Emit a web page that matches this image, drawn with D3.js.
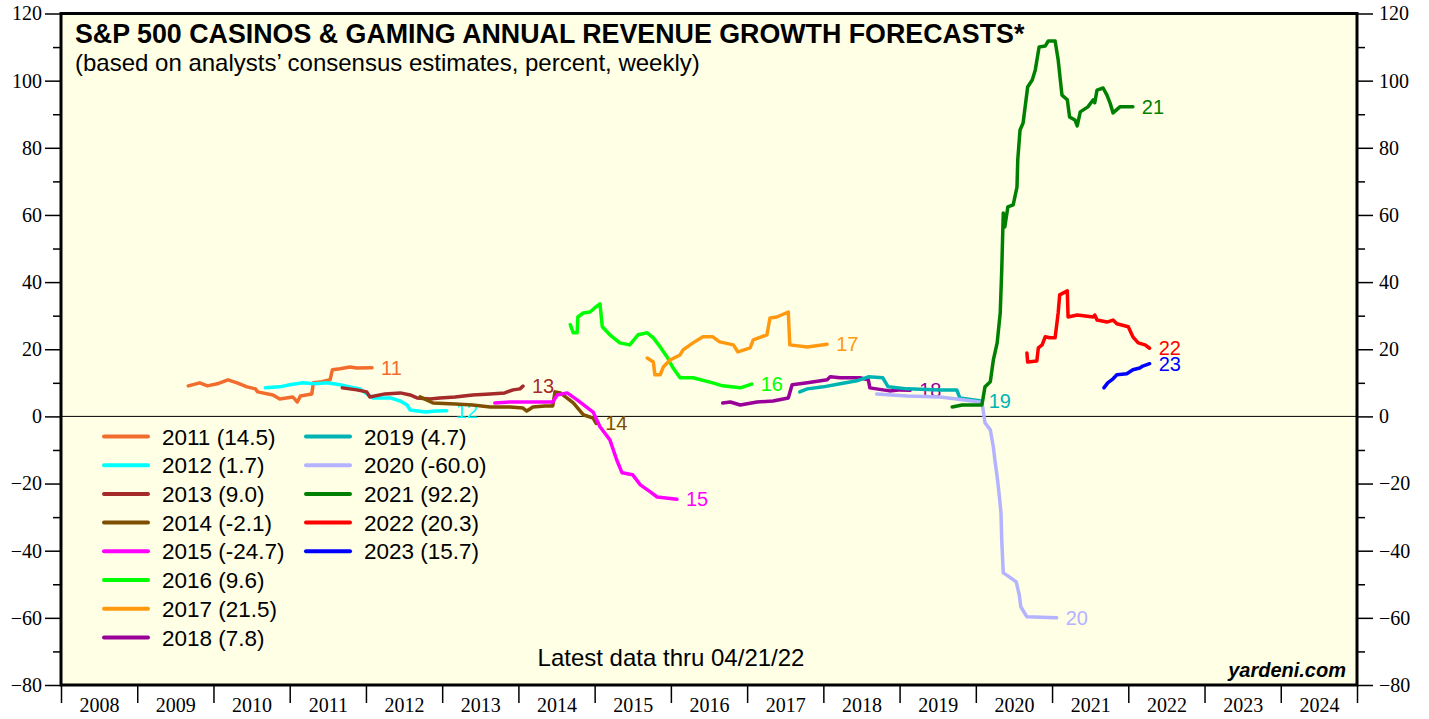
<!DOCTYPE html>
<html>
<head>
<meta charset="utf-8">
<script src="https://cdn.jsdelivr.net/npm/d3@7"></script>
<style>
body { margin: 0; background: #fff; }
svg text { font-family: "Liberation Sans", Arial, sans-serif; }
.axis text { font-family: "Liberation Serif", "Times New Roman", serif; font-size: 20px; fill: #000; }
.axis .domain { display: none; }
.axis line { stroke: #000; stroke-width: 1.5; }
</style>
</head>
<body>
<svg id="chart"></svg>
<script>
// forecast years (legend order) and the latest value shown in the legend
const years = [2011, 2012, 2013, 2014, 2015, 2016, 2017, 2018, 2019, 2020, 2021, 2022, 2023];
const finals = [14.5, 1.7, 9.0, -2.1, -24.7, 9.6, 21.5, 7.8, 4.7, -60.0, 92.2, 20.3, 15.7];

// weekly consensus growth forecasts, [decimal year, percent]
const f2011 = [[2009.67,9.1],[2009.82,10.0],[2009.92,9.1],[2010.05,9.7],[2010.19,10.9],[2010.31,10.0],[2010.44,8.8],[2010.55,8.2],[2010.58,7.3],[2010.78,6.4],[2010.87,5.2],[2011.04,5.8],[2011.10,4.3],[2011.14,6.1],[2011.29,6.7],[2011.31,10.0],[2011.42,10.3],[2011.53,10.9],[2011.56,13.9],[2011.66,14.2],[2011.79,14.7],[2011.88,14.4],[2012.08,14.5]];
const f2012 = [[2010.68,8.5],[2010.87,8.8],[2011.00,9.4],[2011.17,10.0],[2011.33,9.7],[2011.49,10.0],[2011.66,9.4],[2011.79,8.8],[2011.92,8.2],[2012.01,6.7],[2012.09,5.5],[2012.32,5.5],[2012.45,4.6],[2012.54,3.4],[2012.58,1.9],[2012.78,1.3],[2012.91,1.6],[2013.06,1.7]];
const f2013 = [[2011.69,8.5],[2011.88,7.9],[2012.01,7.3],[2012.05,5.8],[2012.25,6.7],[2012.45,7.0],[2012.58,6.4],[2012.67,5.5],[2012.84,5.2],[2012.97,5.5],[2013.17,5.8],[2013.40,6.4],[2013.63,6.7],[2013.82,7.0],[2013.93,7.9],[2014.02,8.2],[2014.06,9.0]];
const f2014 = [[2012.71,5.8],[2012.88,4.0],[2013.17,3.7],[2013.40,3.4],[2013.63,2.8],[2013.89,2.8],[2014.06,2.5],[2014.11,1.6],[2014.19,2.8],[2014.35,3.1],[2014.45,3.1],[2014.48,7.3],[2014.55,7.0],[2014.72,4.0],[2014.85,0.5],[2014.98,-0.5],[2015.02,-2.1]];
const f2015 = [[2013.69,4.0],[2013.89,4.3],[2014.15,4.3],[2014.45,4.3],[2014.51,6.4],[2014.64,7.0],[2014.77,4.9],[2014.98,1.3],[2015.07,-3.1],[2015.20,-7.0],[2015.29,-13.0],[2015.36,-16.8],[2015.50,-17.4],[2015.60,-20.4],[2015.73,-22.5],[2015.82,-24.0],[2016.08,-24.7]];
const f2016 = [[2014.68,27.3],[2014.72,24.9],[2014.77,24.9],[2014.78,29.6],[2014.85,30.8],[2014.94,31.1],[2015.00,32.3],[2015.07,33.5],[2015.10,26.7],[2015.20,24.3],[2015.33,21.9],[2015.46,21.3],[2015.57,24.3],[2015.69,24.9],[2015.77,23.4],[2015.86,20.7],[2015.95,17.7],[2016.03,14.4],[2016.12,11.5],[2016.29,11.5],[2016.55,10.0],[2016.68,9.1],[2016.91,8.5],[2017.06,9.6]];
const f2017 = [[2015.69,17.4],[2015.77,16.2],[2015.79,12.4],[2015.86,12.4],[2015.90,14.7],[2015.99,16.8],[2016.12,18.3],[2016.16,19.8],[2016.29,21.9],[2016.42,23.7],[2016.55,23.7],[2016.64,22.2],[2016.82,21.3],[2016.88,19.2],[2017.04,20.4],[2017.08,22.8],[2017.26,24.3],[2017.30,29.3],[2017.39,29.6],[2017.54,31.1],[2017.56,21.3],[2017.79,20.7],[2018.05,21.5]];
const f2018 = [[2016.68,4.0],[2016.78,4.3],[2016.91,3.4],[2017.13,4.3],[2017.34,4.6],[2017.54,5.5],[2017.59,9.4],[2017.79,10.0],[2018.05,10.9],[2018.09,11.8],[2018.22,11.5],[2018.48,11.5],[2018.59,10.9],[2018.61,8.5],[2018.87,7.6],[2019.01,7.9],[2019.14,7.8]];
const f2019 = [[2017.69,7.3],[2017.79,8.2],[2018.00,8.8],[2018.22,9.7],[2018.44,10.6],[2018.59,11.8],[2018.78,11.5],[2018.85,8.8],[2019.10,8.2],[2019.53,7.9],[2019.75,7.9],[2019.79,5.5],[2020.05,4.7]];
const f2020 = [[2018.70,6.7],[2019.10,6.1],[2019.53,5.8],[2019.75,5.2],[2020.05,4.3],[2020.09,2.8],[2020.12,-1.9],[2020.19,-4.0],[2020.23,-9.1],[2020.25,-13.0],[2020.28,-18.0],[2020.30,-21.9],[2020.33,-28.7],[2020.34,-36.8],[2020.36,-46.6],[2020.42,-47.5],[2020.53,-49.3],[2020.57,-53.2],[2020.59,-56.7],[2020.67,-59.7],[2021.06,-60.0]];
const f2021 = [[2019.69,2.8],[2019.82,3.4],[2020.08,3.4],[2020.12,8.8],[2020.19,10.3],[2020.23,16.8],[2020.28,21.9],[2020.32,30.8],[2020.34,43.6],[2020.36,60.6],[2020.38,56.4],[2020.42,62.4],[2020.49,63.0],[2020.54,68.3],[2020.55,76.4],[2020.58,85.3],[2020.62,87.4],[2020.68,98.1],[2020.74,100.2],[2020.78,103.2],[2020.83,110.0],[2020.91,110.3],[2020.95,111.8],[2021.04,111.8],[2021.08,106.2],[2021.13,95.7],[2021.20,94.3],[2021.23,89.2],[2021.30,88.3],[2021.33,86.5],[2021.37,90.7],[2021.47,92.2],[2021.54,94.3],[2021.56,93.4],[2021.59,97.2],[2021.67,97.8],[2021.72,95.7],[2021.76,93.4],[2021.80,90.4],[2021.89,92.2],[2022.06,92.2]];
const f2022 = [[2020.67,18.9],[2020.68,16.2],[2020.80,16.5],[2020.82,20.4],[2020.87,21.3],[2020.91,23.7],[2020.97,23.4],[2021.04,23.4],[2021.08,30.8],[2021.10,36.2],[2021.20,37.4],[2021.21,29.6],[2021.33,30.2],[2021.54,29.6],[2021.56,30.2],[2021.59,28.7],[2021.72,28.1],[2021.80,28.7],[2021.85,27.6],[2022.00,26.7],[2022.06,23.7],[2022.13,21.9],[2022.22,21.3],[2022.28,20.3]];
const f2023 = [[2021.68,8.5],[2021.73,10.0],[2021.80,11.2],[2021.85,12.4],[2021.98,12.7],[2022.06,13.9],[2022.15,14.4],[2022.19,15.0],[2022.28,15.7]];

const forecasts = [f2011, f2012, f2013, f2014, f2015, f2016, f2017, f2018, f2019, f2020, f2021, f2022, f2023];

// axis ticks
const yMajor = [-80, -60, -40, -20, 0, 20, 40, 60, 80, 100, 120];
const yMinor = [-70, -50, -30, -10, 10, 30, 50, 70, 90, 110];
const xBounds = d3.range(2008, 2026);
const xLabels = d3.range(2008, 2025);

const colors = ['#f26d2d', '#00ffff', '#a52a2a', '#7f4f00', '#ff00ff', '#00ff00', '#ff9a10',
                '#990099', '#00b3b3', '#b3b3ff', '#008000', '#ff0000', '#0000ff'];

const W = 1429, H = 719;
const plot = {left: 61, right: 1357, top: 13.5, bottom: 685};

const svg = d3.select('#chart')
    .attr('width', W)
    .attr('height', H);

const x = d3.scaleLinear().domain([2008, 2025]).range([plot.left, plot.right]);
const y = d3.scaleLinear().domain([-80, 120]).range([plot.bottom, plot.top]);

svg.append('rect')
    .attr('x', plot.left).attr('y', plot.top)
    .attr('width', plot.right - plot.left).attr('height', plot.bottom - plot.top)
    .attr('fill', '#ffffe6');

// axes
svg.append('g').attr('class', 'axis')
    .attr('transform', `translate(${plot.left},0)`)
    .call(d3.axisLeft(y).tickValues(yMajor).tickSize(16).tickPadding(3));
svg.append('g').attr('class', 'axis')
    .attr('transform', `translate(${plot.left},0)`)
    .call(d3.axisLeft(y).tickValues(yMinor).tickSize(8).tickFormat(''));
svg.append('g').attr('class', 'axis')
    .attr('transform', `translate(${plot.right},0)`)
    .call(d3.axisRight(y).tickValues(yMajor).tickSize(16).tickPadding(6));
svg.append('g').attr('class', 'axis')
    .attr('transform', `translate(${plot.right},0)`)
    .call(d3.axisRight(y).tickValues(yMinor).tickSize(8).tickFormat(''));

const xAxisG = svg.append('g').attr('class', 'axis')
    .attr('transform', `translate(0,${plot.bottom})`)
    .call(d3.axisBottom(x).tickValues(xBounds).tickSize(18).tickFormat(''));
xAxisG.selectAll('line').attr('stroke-width', 2.5);
svg.append('g').attr('class', 'axis')
    .attr('transform', `translate(0,${plot.bottom})`)
    .call(d3.axisBottom(x).tickValues(xLabels.map(d => d + 0.5)).tickSize(0).tickPadding(13)
        .tickFormat(d => Math.floor(d)));

// zero line
svg.append('line')
    .attr('x1', plot.left).attr('x2', plot.right)
    .attr('y1', y(0)).attr('y2', y(0))
    .attr('stroke', '#000').attr('stroke-width', 1);

// forecast lines
const line = d3.line().x(d => x(d[0])).y(d => y(d[1]));
const g = svg.append('g');
forecasts.forEach((f, i) => {
    g.append('path')
        .datum(f)
        .attr('d', line)
        .attr('fill', 'none')
        .attr('stroke', colors[i])
        .attr('stroke-width', 3.5)
        .attr('stroke-linejoin', 'round')
        .attr('stroke-linecap', 'round');
    const last = f[f.length - 1];
    g.append('text')
        .attr('x', x(last[0]) + 9)
        .attr('y', y(last[1]))
        .attr('dy', '0.35em')
        .attr('fill', colors[i])
        .attr('font-size', 20)
        .text(String(years[i]).slice(2));
});

// frame
svg.append('rect')
    .attr('x', plot.left).attr('y', plot.top)
    .attr('width', plot.right - plot.left).attr('height', plot.bottom - plot.top)
    .attr('fill', 'none').attr('stroke', '#000').attr('stroke-width', 3);

// legend
const legend = svg.append('g');
years.forEach((yr, i) => {
    const col = i < 8 ? 0 : 1;
    const row = col === 0 ? i : i - 8;
    const lx = col === 0 ? 104 : 306;
    const ly = 436.5 + row * 28.7;
    legend.append('line')
        .attr('x1', lx).attr('x2', lx + 44)
        .attr('y1', ly).attr('y2', ly)
        .attr('stroke', colors[i]).attr('stroke-width', 4)
        .attr('stroke-linecap', 'round');
    legend.append('text')
        .attr('x', lx + 58).attr('y', ly)
        .attr('dy', '0.36em')
        .attr('font-size', 22.5)
        .text(`${yr} (${finals[i].toFixed(1)})`);
});

// titles
svg.append('text')
    .attr('x', 75).attr('y', 43)
    .attr('font-size', 26.8).attr('font-weight', 'bold')
    .text('S&P 500 CASINOS & GAMING ANNUAL REVENUE GROWTH FORECASTS*');
svg.append('text')
    .attr('x', 75).attr('y', 71)
    .attr('font-size', 24)
    .text('(based on analysts’ consensus estimates, percent, weekly)');
svg.append('text')
    .attr('x', 671).attr('y', 666)
    .attr('text-anchor', 'middle')
    .attr('font-size', 24)
    .text('Latest data thru 04/21/22');
svg.append('text')
    .attr('x', 1346).attr('y', 677)
    .attr('text-anchor', 'end')
    .attr('font-size', 20)
    .attr('font-weight', 'bold').attr('font-style', 'italic')
    .attr('font-family', '"Liberation Serif", "Times New Roman", serif')
    .text('yardeni.com');
</script>
</body>
</html>
